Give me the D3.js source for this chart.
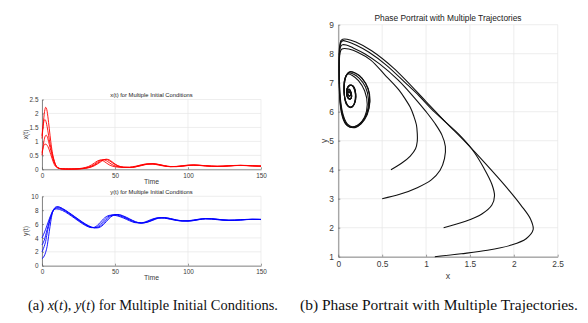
<!DOCTYPE html>
<html><head><meta charset="utf-8">
<script src="https://cdn.jsdelivr.net/npm/d3@7"></script>
<style>body{margin:0;background:#fff} text{font-family:"Liberation Sans",Arial,sans-serif}</style>
</head><body><svg id="c" width="588" height="323"></svg>
<script>
// ---------- data ----------
const timeVals = [0,0.5,1,1.5,2,2.5,3,3.5,4,4.5,5,5.5,6,7,8,9,10,11,12,14,16,18,20,22,24,26,28,30,32,34,36,38,40,42,44,46,48,50,52,56,60,64,68,72,76,80,84,88,92,96,100,104,108,112,116,120,124,128,132,136,140,144,148,150];

// trajectory A: x0=1.1, y0=1
const xA = [1.10,1.40,1.70,1.97,2.14,2.22,2.19,2.08,1.90,1.68,1.45,1.22,1.00,0.63,0.38,0.20,0.10,0.05,0.03,0.015,0.01,0.008,0.008,0.009,0.011,0.015,0.022,0.035,0.055,0.085,0.13,0.19,0.26,0.33,0.36,0.34,0.27,0.19,0.13,0.075,0.065,0.085,0.13,0.18,0.20,0.175,0.13,0.10,0.095,0.11,0.135,0.15,0.145,0.13,0.115,0.105,0.107,0.12,0.132,0.14,0.138,0.128,0.118,0.115];
const yA = [1.00,1.10,1.22,1.40,1.62,1.93,2.30,2.78,3.45,4.20,4.95,5.65,6.35,7.50,8.10,8.40,8.50,8.50,8.45,8.25,8.00,7.72,7.44,7.14,6.84,6.54,6.25,5.98,5.75,5.57,5.47,5.45,5.58,5.90,6.35,6.80,7.15,7.33,7.38,7.15,6.75,6.35,6.15,6.25,6.55,6.85,6.92,6.80,6.60,6.47,6.43,6.50,6.65,6.76,6.77,6.70,6.61,6.55,6.54,6.58,6.64,6.68,6.68,6.67];
// trajectory B: x0=1.2, y0=2
const xB = [1.20,1.45,1.64,1.75,1.78,1.75,1.66,1.53,1.38,1.22,1.06,0.92,0.78,0.55,0.35,0.20,0.10,0.055,0.032,0.016,0.011,0.009,0.009,0.010,0.013,0.018,0.027,0.042,0.066,0.10,0.15,0.22,0.29,0.345,0.355,0.31,0.24,0.17,0.12,0.072,0.066,0.09,0.14,0.185,0.198,0.17,0.125,0.097,0.097,0.115,0.14,0.151,0.143,0.127,0.112,0.105,0.109,0.122,0.134,0.14,0.136,0.126,0.117,0.114];
const yB = [2.00,2.22,2.48,2.78,3.10,3.50,4.05,4.68,5.20,5.65,6.10,6.55,6.95,7.60,8.05,8.30,8.42,8.45,8.40,8.20,7.95,7.67,7.38,7.08,6.78,6.48,6.19,5.93,5.70,5.53,5.46,5.50,5.72,6.10,6.58,6.98,7.25,7.36,7.35,7.08,6.68,6.30,6.14,6.28,6.60,6.88,6.91,6.77,6.58,6.46,6.44,6.52,6.67,6.77,6.76,6.69,6.60,6.54,6.55,6.59,6.65,6.68,6.68,6.67];
// trajectory C: x0=0.5, y0=3
const xC = [0.50,0.70,0.90,1.06,1.16,1.21,1.22,1.18,1.10,1.00,0.89,0.78,0.68,0.47,0.30,0.17,0.09,0.05,0.03,0.016,0.011,0.010,0.010,0.012,0.016,0.022,0.034,0.052,0.08,0.12,0.18,0.26,0.325,0.345,0.31,0.24,0.17,0.12,0.095,0.07,0.068,0.095,0.15,0.19,0.195,0.16,0.12,0.095,0.10,0.12,0.145,0.152,0.14,0.124,0.11,0.106,0.111,0.124,0.136,0.14,0.134,0.124,0.116,0.114];
const yC = [3.00,3.15,3.38,3.65,3.98,4.38,4.80,5.20,5.60,6.00,6.40,6.78,7.10,7.65,8.00,8.20,8.30,8.31,8.27,8.10,7.86,7.58,7.29,6.99,6.69,6.39,6.11,5.86,5.64,5.50,5.48,5.62,5.95,6.40,6.85,7.15,7.30,7.33,7.26,6.97,6.58,6.24,6.15,6.34,6.68,6.90,6.88,6.72,6.55,6.45,6.46,6.56,6.70,6.78,6.74,6.66,6.58,6.54,6.56,6.61,6.66,6.68,6.67,6.66];
// trajectory D: x0=0.6, y0=4
const xD = [0.60,0.72,0.82,0.88,0.90,0.90,0.89,0.86,0.82,0.76,0.69,0.61,0.53,0.37,0.22,0.12,0.07,0.042,0.028,0.016,0.012,0.011,0.012,0.015,0.020,0.030,0.045,0.07,0.105,0.16,0.23,0.30,0.33,0.30,0.23,0.16,0.115,0.09,0.078,0.068,0.075,0.11,0.16,0.192,0.185,0.15,0.112,0.094,0.104,0.127,0.148,0.15,0.136,0.12,0.108,0.107,0.114,0.127,0.138,0.139,0.131,0.121,0.115,0.113];
const yD = [4.00,4.22,4.47,4.72,4.98,5.25,5.55,5.85,6.15,6.45,6.75,7.02,7.27,7.78,8.05,8.16,8.18,8.16,8.11,7.95,7.73,7.46,7.18,6.88,6.58,6.29,6.01,5.76,5.57,5.48,5.55,5.82,6.25,6.72,7.07,7.25,7.30,7.25,7.15,6.85,6.47,6.20,6.18,6.42,6.75,6.91,6.85,6.68,6.52,6.45,6.48,6.60,6.72,6.77,6.72,6.63,6.56,6.54,6.57,6.63,6.67,6.68,6.66,6.65];

const timeTicks = [0,50,100,150];
const xtTicks = [0,0.5,1,1.5,2,2.5];
const ytTicks = [0,2,4,6,8,10];
const phaseXTicks = [0,0.5,1,1.5,2,2.5];
const phaseYTicks = [1,2,3,4,5,6,7,8,9];

const xsAll = [xA,xB,xC,xD];
const ysAll = [yA,yB,yC,yD];

// ---------- drawing ----------
const svg = d3.select("#c");
const gridCol = "#e6e6e6", axisCol = "#5a5a5a", txtCol = "#3a3a3a";

function panel(opts){
  const {x0,x1,yTop,yBot,xDom,yDom,xTicks,yTicks,fs,tfs,lfs,title,titleY,xlab,xlabY,ylab,ylabX} = opts;
  const xs = d3.scaleLinear().domain(xDom).range([x0,x1]);
  const ys = d3.scaleLinear().domain(yDom).range([yBot,yTop]);
  const g = svg.append("g");
  g.selectAll(null).data(xTicks).join("line")
    .attr("x1",d=>xs(d)).attr("x2",d=>xs(d)).attr("y1",yTop).attr("y2",yBot)
    .attr("stroke",gridCol).attr("stroke-width",0.7);
  g.selectAll(null).data(yTicks).join("line")
    .attr("y1",d=>ys(d)).attr("y2",d=>ys(d)).attr("x1",x0).attr("x2",x1)
    .attr("stroke",gridCol).attr("stroke-width",0.7);
  const ax = g.append("g").attr("transform",`translate(0,${yBot})`)
    .call(d3.axisBottom(xs).tickValues(xTicks).tickFormat(d=>String(d)).tickSize(-2).tickPadding(fs*0.45+1).tickSizeOuter(0));
  const ay = g.append("g").attr("transform",`translate(${x0},0)`)
    .call(d3.axisLeft(ys).tickValues(yTicks).tickFormat(d=>String(d)).tickSize(-2).tickPadding(fs*0.4+1).tickSizeOuter(0));
  [ax,ay].forEach(a=>{
    a.select(".domain").attr("stroke",axisCol).attr("stroke-width",0.7);
    a.selectAll(".tick line").attr("stroke",axisCol).attr("stroke-width",0.6);
    a.selectAll(".tick text").attr("fill",txtCol).attr("font-size",fs).attr("font-family","Liberation Sans, Arial, sans-serif");
  });
  g.append("text").attr("x",(x0+x1)/2).attr("y",titleY).attr("text-anchor","middle")
    .attr("font-size",tfs).attr("fill","#222").text(title);
  g.append("text").attr("x",(x0+x1)/2).attr("y",xlabY).attr("text-anchor","middle")
    .attr("font-size",lfs).attr("fill",txtCol).text(xlab);
  g.append("text").attr("transform",`translate(${ylabX},${(yTop+yBot)/2}) rotate(-90)`).attr("text-anchor","middle")
    .attr("font-size",lfs).attr("fill",txtCol).text(ylab);
  return {xs,ys,g};
}

// top-left: x(t)
const p1 = panel({x0:42,x1:261,yTop:99.5,yBot:169.3,xDom:[0,150],yDom:[0,2.5],xTicks:timeTicks,yTicks:xtTicks,
  fs:6.4,tfs:5.8,lfs:6.8,title:"x(t) for Multiple Initial Conditions",titleY:97,xlab:"Time",xlabY:184,ylab:"x(t)",ylabX:28});
const line1 = d3.line().x((d,i)=>p1.xs(timeVals[i])).y(d=>p1.ys(d)).curve(d3.curveMonotoneX);
p1.g.selectAll(null).data(xsAll).join("path").attr("d",line1)
  .attr("fill","none").attr("stroke","#ff0000").attr("stroke-width",0.9);

// bottom-left: y(t)
const p2 = panel({x0:42,x1:261,yTop:196.3,yBot:265.7,xDom:[0,150],yDom:[0,10],xTicks:timeTicks,yTicks:ytTicks,
  fs:6.4,tfs:5.8,lfs:6.8,title:"y(t) for Multiple Initial Conditions",titleY:194,xlab:"Time",xlabY:280,ylab:"y(t)",ylabX:28});
const line2 = d3.line().x((d,i)=>p2.xs(timeVals[i])).y(d=>p2.ys(d)).curve(d3.curveMonotoneX);
p2.g.selectAll(null).data(ysAll).join("path").attr("d",line2)
  .attr("fill","none").attr("stroke","#0000ff").attr("stroke-width",0.9);

// right: phase portrait
const p3 = panel({x0:338.3,x1:557.7,yTop:24.7,yBot:256.7,xDom:[0,2.5],yDom:[1,9],xTicks:phaseXTicks,yTicks:phaseYTicks,
  fs:8.4,tfs:8.4,lfs:8.8,title:"Phase Portrait with Multiple Trajectories",titleY:21,xlab:"x",xlabY:279,ylab:"y",ylabX:327});
const phaseLine = d3.line().x(d=>p3.xs(d[0])).y(d=>p3.ys(d[1])).curve(d3.curveCatmullRom.alpha(0.5));
p3.g.selectAll(null).data(xsAll.map((xv,k)=>xv.map((v,i)=>[v,ysAll[k][i]]))).join("path")
  .attr("d",phaseLine).attr("fill","none").attr("stroke","#111").attr("stroke-width",1.1);

// captions
const cap = svg.append("g").attr("font-size",14.6).attr("fill","#111");
const ca = cap.append("text").attr("x",28).attr("y",310).style("font-family","Liberation Serif, serif")
  .attr("textLength",250).attr("lengthAdjust","spacingAndGlyphs");
ca.append("tspan").text("(a)  ");
ca.append("tspan").attr("font-style","italic").text("x");
ca.append("tspan").text("(");
ca.append("tspan").attr("font-style","italic").text("t");
ca.append("tspan").text("), ");
ca.append("tspan").attr("font-style","italic").text("y");
ca.append("tspan").text("(");
ca.append("tspan").attr("font-style","italic").text("t");
ca.append("tspan").text(") for Multiple Initial Conditions.");
cap.append("text").attr("x",300).attr("y",310).style("font-family","Liberation Serif, serif")
  .attr("textLength",278).attr("lengthAdjust","spacingAndGlyphs")
  .text("(b)  Phase Portrait with Multiple Trajectories.");
</script></body></html>
